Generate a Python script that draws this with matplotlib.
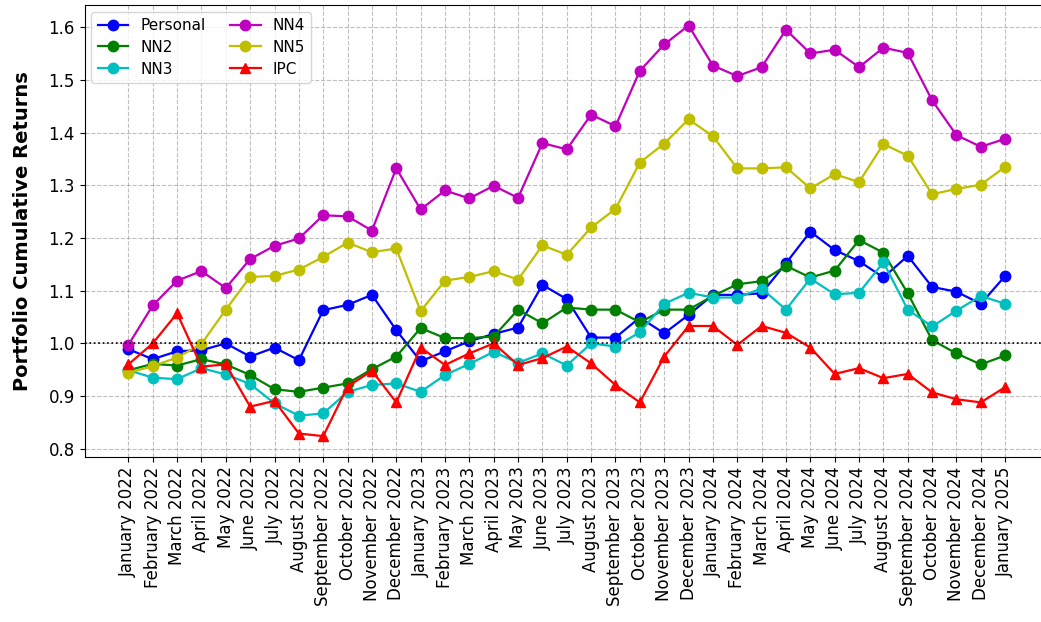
import numpy as np
import matplotlib
matplotlib.use("Agg")
import matplotlib.pyplot as plt

# =============================================================================
# DATA: monthly cumulative returns, Jan 2022 .. Jan 2025
# =============================================================================

months = ["January", "February", "March", "April", "May", "June", "July",
          "August", "September", "October", "November", "December"]
dates = [f"{months[i % 12]} {2022 + i // 12}" for i in range(37)]

personal = [0.989, 0.970, 0.985, 0.987, 1.000, 0.975, 0.992, 0.968, 1.063, 1.073,
            1.092, 1.025, 0.966, 0.985, 1.004, 1.018, 1.030, 1.111, 1.084, 1.011,
            1.011, 1.049, 1.019, 1.054, 1.092, 1.092, 1.095, 1.152, 1.212, 1.177,
            1.156, 1.125, 1.166, 1.107, 1.098, 1.075, 1.128]
nn2 = [0.949, 0.961, 0.958, 0.970, 0.960, 0.940, 0.913, 0.908, 0.916, 0.924,
       0.951, 0.975, 1.029, 1.010, 1.010, 1.013, 1.064, 1.038, 1.068, 1.064,
       1.064, 1.040, 1.064, 1.064, 1.090, 1.112, 1.118, 1.147, 1.125, 1.138,
       1.196, 1.172, 1.095, 1.006, 0.981, 0.960, 0.977]
nn3 = [0.949, 0.935, 0.932, 0.953, 0.941, 0.923, 0.886, 0.863, 0.867, 0.908,
       0.921, 0.924, 0.908, 0.940, 0.961, 0.984, 0.963, 0.981, 0.958, 1.000,
       0.994, 1.021, 1.075, 1.096, 1.087, 1.087, 1.104, 1.064, 1.123, 1.093,
       1.096, 1.154, 1.064, 1.032, 1.062, 1.090, 1.075]
nn4 = [0.997, 1.072, 1.119, 1.137, 1.105, 1.160, 1.185, 1.199, 1.243, 1.241,
       1.214, 1.332, 1.254, 1.290, 1.275, 1.299, 1.276, 1.380, 1.368, 1.434,
       1.412, 1.517, 1.567, 1.603, 1.527, 1.507, 1.524, 1.595, 1.550, 1.557,
       1.524, 1.561, 1.551, 1.461, 1.395, 1.373, 1.388]
nn5 = [0.944, 0.957, 0.973, 0.999, 1.064, 1.126, 1.128, 1.140, 1.164, 1.191,
       1.173, 1.180, 1.061, 1.119, 1.126, 1.137, 1.121, 1.186, 1.168, 1.220,
       1.255, 1.343, 1.379, 1.425, 1.393, 1.332, 1.332, 1.334, 1.294, 1.321,
       1.306, 1.378, 1.356, 1.283, 1.293, 1.301, 1.335]
ipc = [0.960, 1.000, 1.057, 0.956, 0.960, 0.880, 0.891, 0.829, 0.824, 0.918,
       0.948, 0.888, 0.992, 0.959, 0.981, 1.000, 0.959, 0.972, 0.994, 0.962,
       0.921, 0.888, 0.975, 1.033, 1.033, 0.997, 1.033, 1.020, 0.992, 0.942,
       0.953, 0.934, 0.942, 0.907, 0.894, 0.888, 0.917]

series = [("Personal", personal, "b", "o"),
          ("NN2", nn2, "g", "o"),
          ("NN3", nn3, "c", "o"),
          ("NN4", nn4, "m", "o"),
          ("NN5", nn5, "y", "o"),
          ("IPC", ipc, "r", "^")]

# =============================================================================
# PLOT
# =============================================================================

fig = plt.figure(figsize=(10.41, 6.22), dpi=100)
ax = fig.add_axes([0.0812, 0.2658, 0.9265, 0.7262])

x = np.arange(len(dates))
for name, vals, col, mk in series:
    ax.plot(x, vals, color=col, marker=mk, markersize=7.5, linewidth=1.6, label=name)

ax.axhline(1.0, color="black", linestyle=":", linewidth=1.2)

ax.set_xticks(x)
ax.set_xticklabels(dates, rotation=90, fontsize=12)
ax.tick_params(axis="y", labelsize=12)
ax.set_ylabel("Portfolio Cumulative Returns", fontsize=14, fontweight="bold",
              labelpad=12)
ax.grid(True, linestyle="--", color="gray", alpha=0.5)
ax.legend(loc="upper left", ncol=2, fontsize=11, handlelength=2.0,
          labelspacing=0.45, columnspacing=1.6, borderaxespad=0.45)

fig.savefig("out.png", dpi=100)
